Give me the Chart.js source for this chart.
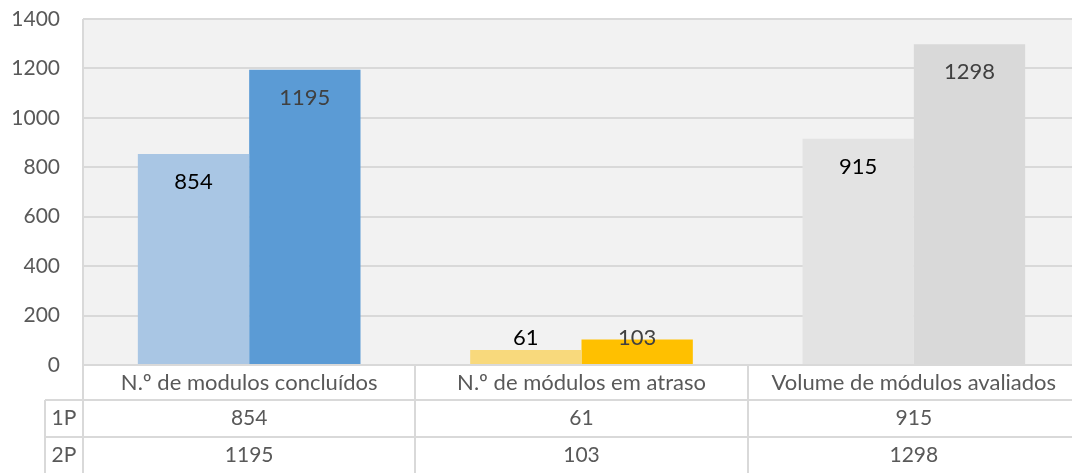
<!DOCTYPE html>
<html lang="pt">
<head>
<meta charset="UTF-8">
<title>Módulos</title>
<script src="https://cdn.jsdelivr.net/npm/chart.js@4.4.1/dist/chart.umd.min.js"></script>
<style>
  html, body { margin: 0; padding: 0; background: #fff; overflow: hidden; }
  /* canvas is a bit wider than the window: the plot runs past the right edge like the original */
  #wrap { width: 1072px; height: 473px; overflow: hidden; }
</style>
</head>
<body>
<div id="wrap"><canvas id="chart" width="1080" height="473"></canvas></div>
<script>
// data
var categories = ['N.º de modulos concluídos', 'N.º de módulos em atraso', 'Volume de módulos avaliados'];
var seriesNames = ['1P', '2P'];
var values1P = [854, 61, 915];
var values2P = [1195, 103, 1298];
var colors1P = ['#a9c6e4', '#f8d97c', '#e3e3e3'];
var colors2P = ['#5b9bd5', '#ffc000', '#d9d9d9'];
var yTicks = [0, 200, 400, 600, 800, 1000, 1200, 1400];

var FONT = 'Lato, "Open Sans", sans-serif';
var lineColor = '#d9d9d9';

// data labels inside bar end + the data table under the plot
var tablePlugin = {
    id: 'tablePlugin',
    beforeDraw: function (chart) {
        var ctx = chart.ctx, a = chart.chartArea;
        ctx.save();
        ctx.fillStyle = '#f2f2f2';
        ctx.fillRect(a.left, a.top, a.right - a.left, a.bottom - a.top);
        ctx.restore();
    },
    afterDatasetsDraw: function (chart) {
        var ctx = chart.ctx;
        var base = chart.chartArea.bottom;
        ctx.save();
        ctx.font = '22px ' + FONT;
        ctx.textAlign = 'center';
        ctx.textBaseline = 'middle';
        chart.data.datasets.forEach(function (ds, di) {
            var meta = chart.getDatasetMeta(di);
            meta.data.forEach(function (bar, i) {
                var y = Math.min(bar.y + 28, base - 27);
                ctx.fillStyle = di === 0 ? '#000000' : '#404040';
                ctx.fillText(String(ds.data[i]), bar.x, y);
            });
        });
        ctx.restore();
    },
    afterDraw: function (chart) {
        var ctx = chart.ctx, a = chart.chartArea;
        var xs = chart.scales.x;
        var n = categories.length;
        var colW = (a.right - a.left) / n;
        var r0 = a.bottom, r1 = r0 + 35, r2 = r1 + 37, r3 = chart.height;
        var leftCol = 45;
        ctx.save();
        ctx.strokeStyle = lineColor;
        ctx.lineWidth = 2;
        ctx.beginPath();
        // left edge of plot + table
        ctx.moveTo(a.left, a.top); ctx.lineTo(a.left, r3);
        // category boundaries
        for (var i = 1; i < n; i++) {
            var bx = Math.round(a.left + colW * i);
            ctx.moveTo(bx, r0); ctx.lineTo(bx, r3);
        }
        ctx.moveTo(a.left, r0); ctx.lineTo(a.right, r0);
        ctx.moveTo(leftCol, r1); ctx.lineTo(a.right, r1);
        ctx.moveTo(leftCol, r2); ctx.lineTo(a.right, r2);
        ctx.moveTo(leftCol, r1); ctx.lineTo(leftCol, r3);
        ctx.stroke();

        ctx.fillStyle = '#595959';
        ctx.textBaseline = 'middle';
        ctx.textAlign = 'center';
        var rows = [values1P, values2P];
        categories.forEach(function (c, i) {
            var cx = xs.getPixelForValue(i);
            ctx.font = '22px ' + FONT;
            ctx.fillText(c, cx, (r0 + r1) / 2);
            ctx.font = '21px ' + FONT;
            ctx.fillText(String(rows[0][i]), cx, (r1 + r2) / 2);
            ctx.fillText(String(rows[1][i]), cx, (r2 + r3) / 2);
        });
        ctx.fillText(seriesNames[0], (leftCol + a.left) / 2, (r1 + r2) / 2);
        ctx.fillText(seriesNames[1], (leftCol + a.left) / 2, (r2 + r3) / 2);
        ctx.restore();
    }
};

new Chart(document.getElementById('chart'), {
    type: 'bar',
    data: {
        labels: categories,
        datasets: [
            { label: seriesNames[0], data: values1P, backgroundColor: colors1P },
            { label: seriesNames[1], data: values2P, backgroundColor: colors2P }
        ]
    },
    options: {
        responsive: false,
        animation: false,
        layout: { padding: { top: 19, bottom: 108, left: 0, right: 0 } },
        datasets: { bar: { categoryPercentage: 0.67, barPercentage: 1.0 } },
        plugins: { legend: { display: false }, tooltip: { enabled: false } },
        scales: {
            x: {
                display: false,
                offset: true
            },
            y: {
                min: 0,
                max: 1400,
                afterBuildTicks: function (scale) {
                    scale.ticks = yTicks.map(function (v) { return { value: v }; });
                },
                afterFit: function (scale) { scale.width = 83; },
                border: { display: false },
                grid: { color: lineColor, lineWidth: 2, drawTicks: true, tickLength: 23, tickColor: 'rgba(0,0,0,0)' },
                ticks: {
                    color: '#595959',
                    padding: 0,
                    font: { family: FONT, size: 21 },
                    callback: function (v) { return String(v); }
                }
            }
        }
    },
    plugins: [tablePlugin]
});
</script>
</body>
</html>
